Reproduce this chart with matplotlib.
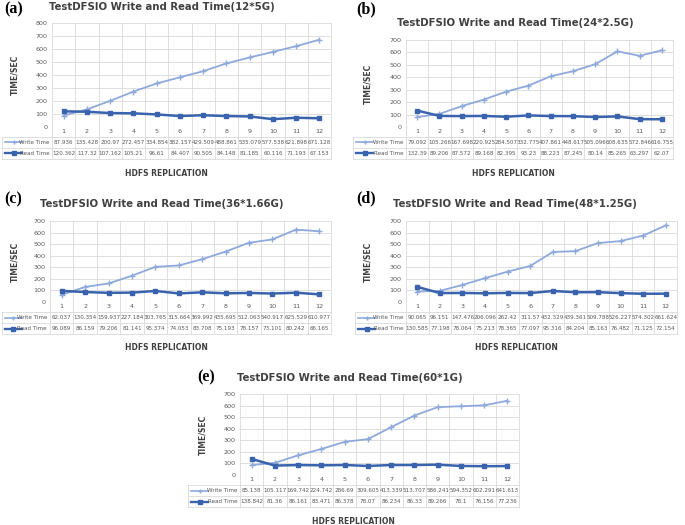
import numpy as np
import matplotlib.pyplot as plt
from matplotlib.lines import Line2D

# ===== data (TestDFSIO write / read time, sec) =====
reps = list(range(1, 13))

write_a = [87.936, 135.428, 200.97, 272.457, 334.854, 382.157, 429.509, 488.861, 535.079, 577.538, 621.898, 671.128]
read_a = [120.362, 117.32, 107.162, 105.21, 96.61, 84.407, 90.505, 84.148, 81.185, 60.116, 71.193, 67.153]

write_b = [79.092, 105.266, 167.698, 220.925, 284.507, 332.775, 407.861, 448.617, 505.096, 608.635, 572.846, 616.755]
read_b = [132.39, 89.206, 87.572, 89.168, 82.395, 93.23, 88.223, 87.245, 80.14, 85.265, 63.297, 62.07]

write_c = [62.037, 130.354, 159.937, 227.184, 303.765, 315.664, 369.992, 435.695, 512.063, 540.917, 625.529, 610.977]
read_c = [96.089, 86.159, 79.206, 81.141, 95.374, 74.053, 83.708, 75.193, 78.157, 73.101, 80.242, 66.165]

write_d = [90.065, 96.151, 147.476, 206.096, 262.42, 311.57, 432.329, 439.361, 509.788, 526.227, 574.302, 661.624]
read_d = [130.585, 77.198, 78.064, 75.213, 78.365, 77.097, 95.316, 84.204, 85.163, 76.482, 71.125, 72.154]

write_e = [85.138, 105.117, 169.742, 224.742, 286.69, 309.605, 413.339, 513.707, 586.241, 594.352, 602.291, 641.613]
read_e = [138.842, 81.36, 86.161, 83.471, 86.378, 78.07, 86.234, 86.33, 89.266, 78.1, 76.156, 77.236]

W, H = 685, 525
WRITE_C = "#8EA9DB"
READ_C = "#3A63AE"
GRID_C = "#D9D9D9"
TXT_C = "#595959"

fig = plt.figure(figsize=(W / 100, H / 100), dpi=100)


def px_box(l, r, t, b):
    return [l / W, 1 - b / H, (r - l) / W, (b - t) / H]


def panel(box, tab_left, tag, tag_xy, title, title_xy, ylab_x, xlab_y, write, read, ymax):
    l, r, t, b = box
    ax = fig.add_axes(px_box(l, r, t, b))
    wpx, hpx = r - l, b - t
    fx = lambda px: (px - l) / wpx          # pixel -> axes fraction (x)
    fy = lambda dy: -dy / hpx               # pixels below axes -> axes fraction (y)

    ax.plot(reps, write, color=WRITE_C, lw=1.3, marker="+", ms=4, mew=1, zorder=3)
    ax.plot(reps, read, color=READ_C, lw=1.8, marker="s", ms=3.2, zorder=4)

    ax.set_xlim(0.5, 12.5)
    ax.set_ylim(0, ymax)
    ax.set_yticks(range(0, ymax + 1, 100))
    ax.set_xticks(reps)
    ax.tick_params(length=0, labelsize=4.6, colors=TXT_C)
    ax.tick_params(axis="x", pad=1.5)
    ax.tick_params(axis="y", pad=3)
    for s in ax.spines.values():
        s.set_visible(False)
    ax.yaxis.grid(True, color=GRID_C, lw=0.6)
    ax.set_axisbelow(True)

    # --- data table below the axes ---
    y_top, y_mid, y_bot = fy(10), fy(21), fy(32)
    kw = dict(transform=ax.transAxes, color=GRID_C, lw=0.6, clip_on=False)
    for xb in np.arange(0.5, 13.0, 1.0):
        xf = (xb - 0.5) / 12
        ax.add_line(Line2D([xf, xf], [y_bot, 1], **kw))
    ax.add_line(Line2D([fx(tab_left)] * 2, [y_bot, y_top], **kw))
    for yy in (y_top, y_mid, y_bot):
        ax.add_line(Line2D([fx(tab_left), 1], [yy, yy], **kw))

    rows = [("Write Time", write, WRITE_C, "+", 1.2), ("Read Time", read, READ_C, "s", 1.7)]
    for (name, vals, col, mk, lw), yc in zip(rows, [(y_top + y_mid) / 2, (y_mid + y_bot) / 2]):
        for i, v in enumerate(vals):
            ax.text((i + 0.5) / 12, yc, f"{v:g}", transform=ax.transAxes,
                    ha="center", va="center", fontsize=4.1, color=TXT_C)
        x0, x1 = fx(tab_left + 3), fx(tab_left + 20)
        ax.add_line(Line2D([x0, x1], [yc, yc], transform=ax.transAxes, color=col,
                           lw=lw, clip_on=False))
        ax.add_line(Line2D([(x0 + x1) / 2], [yc], transform=ax.transAxes, color=col,
                           marker=mk, ms=2.5, clip_on=False))
        ax.text(fx(l - 3), yc, name, transform=ax.transAxes, ha="right", va="center",
                fontsize=4.1, color=TXT_C)

    # --- labels ---
    fig.text(tag_xy[0] / W, 1 - tag_xy[1] / H, tag, ha="left", va="center",
             fontsize=11.5, fontweight="bold", family="Liberation Serif")
    fig.text(title_xy[0] / W, 1 - title_xy[1] / H, title, ha="center", va="center",
             fontsize=7.3, fontweight="bold", color="#404040")
    fig.text(ylab_x / W, 1 - (t + b) / 2 / H, "TIME/SEC", rotation=90, ha="center",
             va="center", fontsize=5.5, fontweight="bold", color="#404040")
    fig.text((tab_left + r) / 2 / W, 1 - xlab_y / H, "HDFS REPLICATION", ha="center",
             va="center", fontsize=5.5, fontweight="bold", color="#404040")
    return ax


panel((52, 331, 23, 127), 2, "(a)", (4, 9), "TestDFSIO Write and Read Time(12*5G)", (162, 7),
      15, 173, write_a, read_a, 800)
panel((406, 673, 40, 127), 353, "(b)", (356, 9), "TestDFSIO Write and Read Time(24*2.5G)", (515, 23),
      368, 174, write_b, read_b, 700)
panel((50, 331, 221, 302), 2, "(c)", (4, 199), "TestDFSIO Write and Read Time(36*1.66G)", (162, 204),
      15, 348, write_c, read_c, 700)
panel((406, 677, 221, 302), 355, "(d)", (356, 198), "TestDFSIO Write and Read Time(48*1.25G)", (515, 204),
      368, 348, write_d, read_d, 700)
panel((240, 519, 394, 475), 188, "(e)", (197, 377), "TestDFSIO Write and Read Time(60*1G)", (350, 378),
      203, 521, write_e, read_e, 700)

fig.savefig("out.png", dpi=100)
